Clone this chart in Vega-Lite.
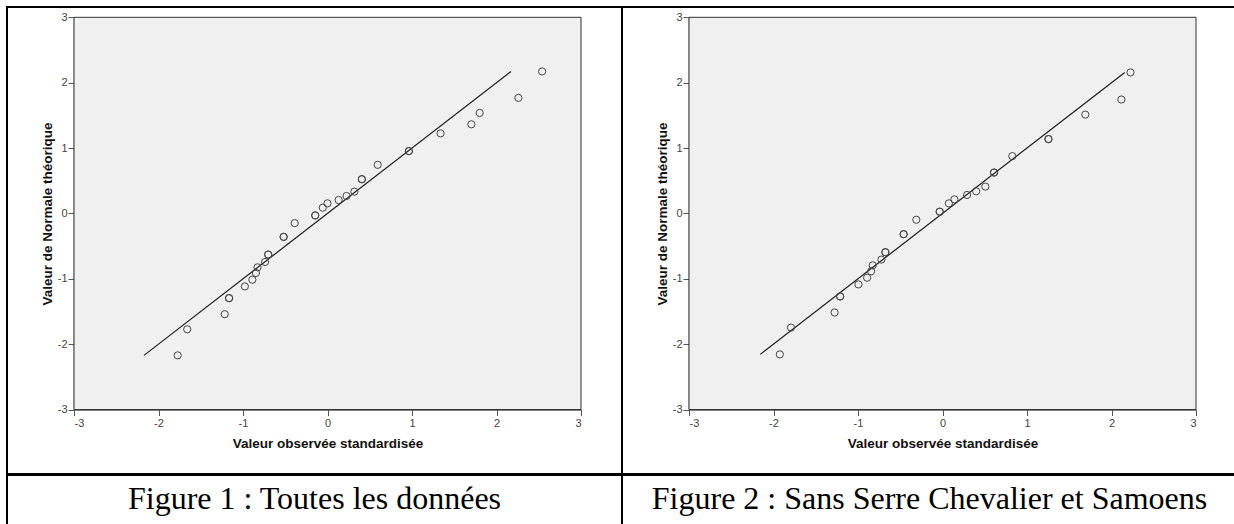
{
  "$schema": "https://vega.github.io/schema/vega-lite/v6.json",
  "background": "white",
  "padding": {"left": 6, "top": 6, "right": 0, "bottom": 0},
  "spacing": -2,
  "datasets": {
    "toutes": [
      {"obs": -1.773, "theo": -2.172},
      {"obs": -1.660, "theo": -1.773},
      {"obs": -1.216, "theo": -1.542},
      {"obs": -1.165, "theo": -1.296},
      {"obs": -1.165, "theo": -1.296},
      {"obs": -0.978, "theo": -1.117},
      {"obs": -0.889, "theo": -1.014},
      {"obs": -0.847, "theo": -0.912},
      {"obs": -0.828, "theo": -0.825},
      {"obs": -0.739, "theo": -0.743},
      {"obs": -0.702, "theo": -0.630},
      {"obs": -0.702, "theo": -0.630},
      {"obs": -0.519, "theo": -0.359},
      {"obs": -0.519, "theo": -0.359},
      {"obs": -0.388, "theo": -0.149},
      {"obs": -0.145, "theo": -0.031},
      {"obs": -0.145, "theo": -0.031},
      {"obs": -0.056, "theo": 0.087},
      {"obs": 0.000, "theo": 0.154},
      {"obs": 0.131, "theo": 0.205},
      {"obs": 0.225, "theo": 0.266},
      {"obs": 0.318, "theo": 0.333},
      {"obs": 0.407, "theo": 0.523},
      {"obs": 0.407, "theo": 0.523},
      {"obs": 0.594, "theo": 0.743},
      {"obs": 0.963, "theo": 0.953},
      {"obs": 0.963, "theo": 0.953},
      {"obs": 1.338, "theo": 1.224},
      {"obs": 1.703, "theo": 1.363},
      {"obs": 1.801, "theo": 1.537},
      {"obs": 2.259, "theo": 1.767},
      {"obs": 2.540, "theo": 2.172}
    ],
    "sans_sc_samoens": [
      {"obs": -1.925, "theo": -2.157},
      {"obs": -1.793, "theo": -1.747},
      {"obs": -1.277, "theo": -1.516},
      {"obs": -1.211, "theo": -1.270},
      {"obs": -1.211, "theo": -1.270},
      {"obs": -0.995, "theo": -1.086},
      {"obs": -0.892, "theo": -0.984},
      {"obs": -0.845, "theo": -0.886},
      {"obs": -0.826, "theo": -0.794},
      {"obs": -0.723, "theo": -0.707},
      {"obs": -0.676, "theo": -0.594},
      {"obs": -0.676, "theo": -0.594},
      {"obs": -0.460, "theo": -0.318},
      {"obs": -0.460, "theo": -0.318},
      {"obs": -0.310, "theo": -0.097},
      {"obs": -0.033, "theo": 0.026},
      {"obs": -0.033, "theo": 0.026},
      {"obs": 0.075, "theo": 0.154},
      {"obs": 0.141, "theo": 0.215},
      {"obs": 0.291, "theo": 0.282},
      {"obs": 0.399, "theo": 0.338},
      {"obs": 0.507, "theo": 0.410},
      {"obs": 0.610, "theo": 0.625},
      {"obs": 0.610, "theo": 0.625},
      {"obs": 0.826, "theo": 0.876},
      {"obs": 1.254, "theo": 1.137},
      {"obs": 1.254, "theo": 1.137},
      {"obs": 1.690, "theo": 1.511},
      {"obs": 2.117, "theo": 1.742},
      {"obs": 2.225, "theo": 2.157}
    ]
  },
  "config": {
    "view": {"stroke": "black", "strokeWidth": 2},
    "axis": {
      "grid": false,
      "labelFont": "Liberation Sans",
      "labelFontSize": 11,
      "labelColor": "#444",
      "titleFont": "Liberation Sans",
      "titleFontSize": 13.5,
      "titleFontWeight": "bold",
      "titleColor": "#111",
      "domainColor": "#555",
      "domainWidth": 1.5,
      "tickColor": "#555",
      "tickSize": 6,
      "labelExpr": "'' + datum.value"
    }
  },
  "vconcat": [
    {
      "spacing": 0,
      "bounds": "flush",
      "hconcat": [
        {
          "width": 615,
          "height": 467,
          "data": {"name": "toutes"},
          "layer": [
            {
              "data": {"values": [{}]},
              "mark": {"type": "rect", "fill": "#f0f0f0", "stroke": "#333", "strokeWidth": 1},
              "encoding": {
                "x": {"datum": -3, "type": "quantitative", "title": "Valeur observée standardisée",
                      "scale": {"domain": [-3, 3], "range": [67, 574], "nice": false, "zero": false},
                      "axis": {"offset": -64.5, "labelPadding": 2, "titlePadding": 8, "values": [-3, -2, -1, 0, 1, 2, 3]}},
                "x2": {"datum": 3},
                "y": {"datum": -3, "type": "quantitative", "title": "Valeur de Normale théorique",
                      "scale": {"domain": [-3, 3], "range": [402.5, 10.3], "nice": false, "zero": false},
                      "axis": {"offset": -67, "labelPadding": 1, "titlePadding": 3, "values": [-3, -2, -1, 0, 1, 2, 3]}},
                "y2": {"datum": 3}
              }
            },
            {
              "transform": [{"aggregate": [{"op": "min", "field": "theo", "as": "lo"}, {"op": "max", "field": "theo", "as": "hi"}]}],
              "mark": {"type": "rule", "color": "#1a1a1a", "strokeWidth": 1.2},
              "encoding": {
                "x": {"field": "lo", "type": "quantitative", "title": "Valeur observée standardisée"},
                "x2": {"field": "hi"},
                "y": {"field": "lo", "type": "quantitative", "title": "Valeur de Normale théorique"},
                "y2": {"field": "hi"}
              }
            },
            {
              "mark": {"type": "point", "shape": "circle", "filled": false, "size": 52, "stroke": "#444", "strokeWidth": 1, "opacity": 1},
              "encoding": {
                "x": {"field": "obs", "type": "quantitative", "title": "Valeur observée standardisée"},
                "y": {"field": "theo", "type": "quantitative", "title": "Valeur de Normale théorique"}
              }
            }
          ]
        },
        {
          "width": 615,
          "height": 467,
          "data": {"name": "sans_sc_samoens"},
          "layer": [
            {
              "data": {"values": [{}]},
              "mark": {"type": "rect", "fill": "#f0f0f0", "stroke": "#333", "strokeWidth": 1},
              "encoding": {
                "x": {"datum": -3, "type": "quantitative", "title": "Valeur observée standardisée",
                      "scale": {"domain": [-3, 3], "range": [67, 574], "nice": false, "zero": false},
                      "axis": {"offset": -64.5, "labelPadding": 2, "titlePadding": 8, "values": [-3, -2, -1, 0, 1, 2, 3]}},
                "x2": {"datum": 3},
                "y": {"datum": -3, "type": "quantitative", "title": "Valeur de Normale théorique",
                      "scale": {"domain": [-3, 3], "range": [402.5, 10.3], "nice": false, "zero": false},
                      "axis": {"offset": -67, "labelPadding": 1, "titlePadding": 3, "values": [-3, -2, -1, 0, 1, 2, 3]}},
                "y2": {"datum": 3}
              }
            },
            {
              "transform": [{"aggregate": [{"op": "min", "field": "theo", "as": "lo"}, {"op": "max", "field": "theo", "as": "hi"}]}],
              "mark": {"type": "rule", "color": "#1a1a1a", "strokeWidth": 1.2},
              "encoding": {
                "x": {"field": "lo", "type": "quantitative", "title": "Valeur observée standardisée"},
                "x2": {"field": "hi"},
                "y": {"field": "lo", "type": "quantitative", "title": "Valeur de Normale théorique"},
                "y2": {"field": "hi"}
              }
            },
            {
              "mark": {"type": "point", "shape": "circle", "filled": false, "size": 52, "stroke": "#444", "strokeWidth": 1, "opacity": 1},
              "encoding": {
                "x": {"field": "obs", "type": "quantitative", "title": "Valeur observée standardisée"},
                "y": {"field": "theo", "type": "quantitative", "title": "Valeur de Normale théorique"}
              }
            }
          ]
        }
      ]
    },
    {
      "spacing": 0,
      "bounds": "flush",
      "hconcat": [
        {
          "width": 615,
          "height": 56,
          "view": {"stroke": "black", "strokeWidth": 2},
          "data": {"values": [{"caption": "Figure 1 : Toutes les données"}]},
          "mark": {"type": "text", "font": "Liberation Serif", "fontSize": 32, "baseline": "alphabetic", "dy": 6, "color": "black"},
          "encoding": {"text": {"field": "caption"}}
        },
        {
          "width": 615,
          "height": 56,
          "view": {"stroke": "black", "strokeWidth": 2},
          "data": {"values": [{"caption": "Figure 2 : Sans Serre Chevalier et Samoens"}]},
          "mark": {"type": "text", "font": "Liberation Serif", "fontSize": 32, "baseline": "alphabetic", "dy": 6, "color": "black"},
          "encoding": {"text": {"field": "caption"}}
        }
      ]
    }
  ]
}
